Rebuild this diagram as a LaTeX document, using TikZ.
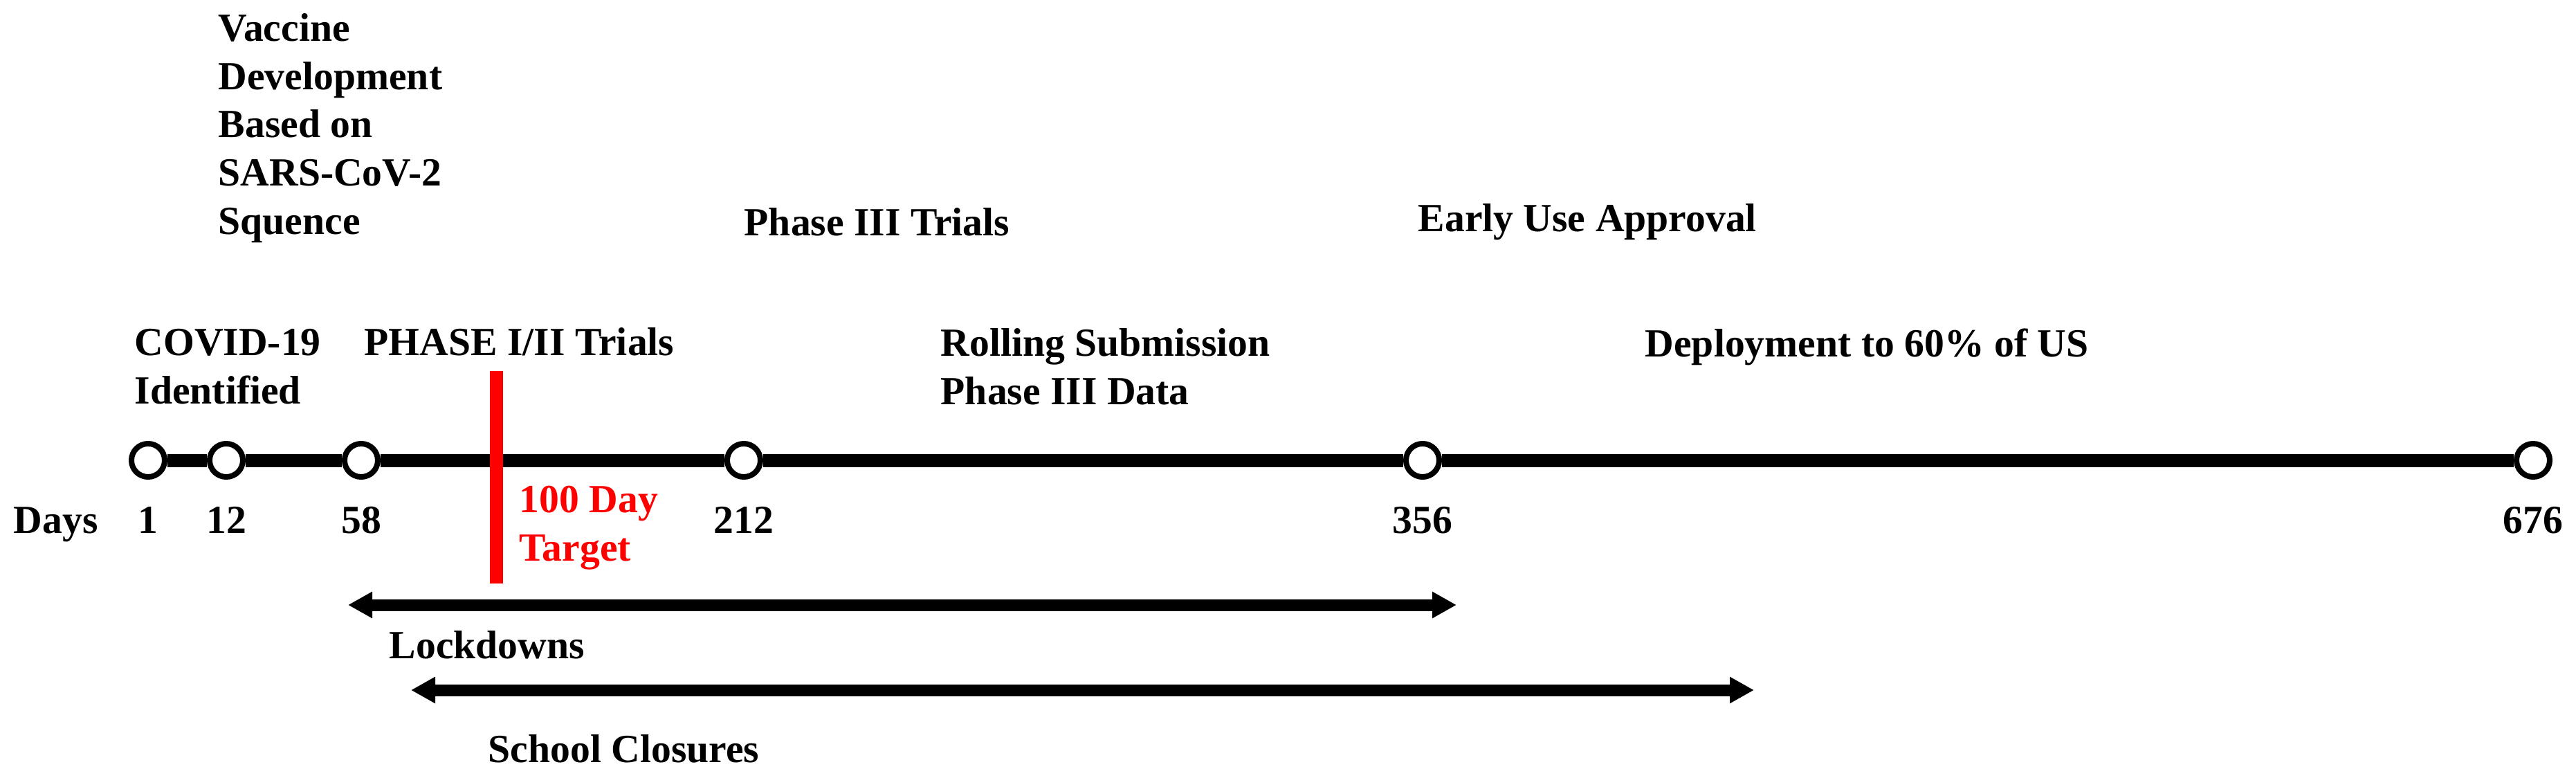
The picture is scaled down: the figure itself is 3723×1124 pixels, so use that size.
\documentclass[tikz,border=0pt]{standalone}
\usepackage{fontspec}
\setmainfont{Liberation Serif}
\usetikzlibrary{arrows.meta}

\tikzset{
	lbl/.style={anchor=base west, inner sep=0pt, align=left, font=\fontsize{16.4}{19.8}\selectfont\bfseries},
	daylbl/.style={lbl, anchor=base},
	dot/.style={circle, draw, fill=white, line width=0.08cm, minimum size=0.48cm, inner sep=0pt},
	timeline/.style={line width=0.19cm},
	spanarrow/.style={line width=0.17cm, {Triangle[length=0.35cm,width=0.36cm]}-{Triangle[length=0.35cm,width=0.36cm]}},
}

\begin{document}
\begin{tikzpicture}[x=0.01cm, y=-0.01cm]
			%%%%% START %%%%%
			\useasboundingbox (0, 0) rectangle (3723, 1124);
			
			\foreach \x/\d in {214/1, 327/12, 522/58, 1075/212, 2056/356, 3661/676}{
				\node[dot] (d\d) at (\x, 665) {};
				\node[daylbl] (l\d) at (\x, 770) {\d};
			}
			\node[lbl] (days) at (19, 770) {Days};
			
			\foreach \a/\b in {d1/d12, d12/d58, d58/d212, d212/d356, d356/d676}
				\draw[timeline] (\a) -- (\b);
			
			\coordinate (tgttop) at (717, 536);
			\coordinate (tgtbot) at (717, 843);
			\draw[line width=0.19cm, color=red] (tgttop) -- (tgtbot);
			% base of a multi-line label is its last line
			\node[lbl, text=red] (target) at (750, 810) {100 Day\\Target};
			
			\node[lbl] (vaccine) at (315, 338) {Vaccine\\Development\\Based on\\SARS-CoV-2\\Squence};
			\node[lbl] (covid) at (194, 583) {COVID-19\\Identified};
			\node[lbl] (phase12) at (526, 513) {PHASE I/II Trials};
			\node[lbl] (phase3) at (1075, 340) {Phase III Trials};
			\node[lbl] (rolling) at (1359, 584) {Rolling Submission\\Phase III Data};
			\node[lbl] (early) at (2049, 334) {Early Use Approval};
			\node[lbl] (deploy) at (2377, 515) {Deployment to 60\% of US};
			
			\coordinate (lockl) at (503, 874);
			\coordinate (lockr) at (2105, 874);
			\draw[spanarrow] (lockl) -- (lockr);
			\node[lbl] (lockdowns) at (562, 951) {Lockdowns};
			
			\coordinate (schooll) at (594, 997);
			\coordinate (schoolr) at (2535, 997);
			\draw[spanarrow] (schooll) -- (schoolr);
			\node[lbl] (school) at (705, 1101) {School Closures};
			
			%%%%% END %%%%%
\end{tikzpicture}
\end{document}
